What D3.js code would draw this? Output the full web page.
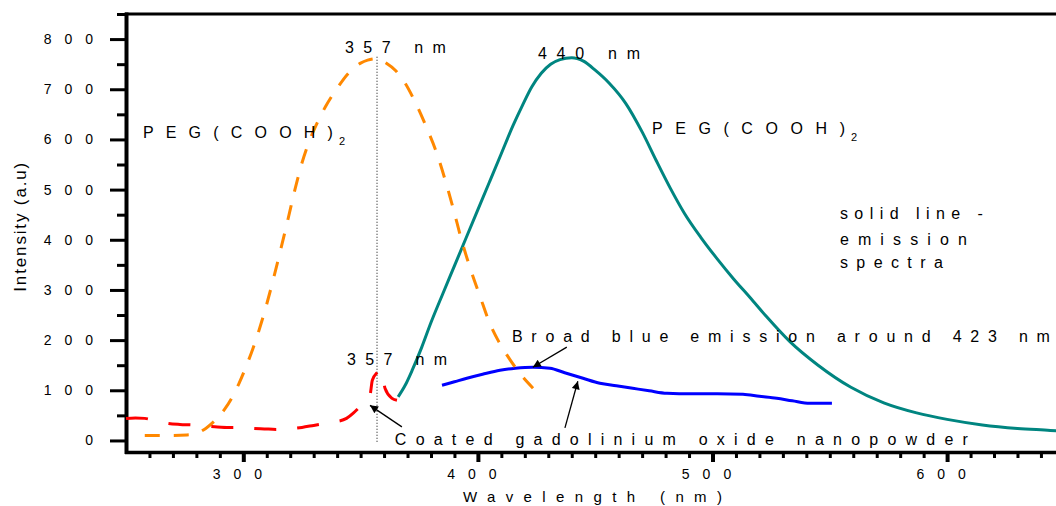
<!DOCTYPE html>
<html>
<head>
<meta charset="utf-8">
<script src="https://cdn.jsdelivr.net/npm/d3@7"></script>
<style>
body { margin: 0; background: #fff; }
text { font-family: "Liberation Sans", Arial, sans-serif; fill: #000; }
</style>
</head>
<body>
<svg id="chart" width="1056" height="506"></svg>
<script>
// excitation, PEG(COOH)2 (dashed orange)
var pegExcWl  = [258, 264, 270, 276, 280, 284, 288, 292, 295, 298, 301, 304, 307, 310, 313, 316, 319, 322, 325, 328, 331, 335, 340, 345, 350, 353, 357, 361, 365, 369, 373, 378, 382.5, 386, 389.5, 393, 396.6, 401, 405, 409, 412.4, 418, 423.5];
var pegExcVal = [10, 10, 10, 11, 14, 24, 40, 62, 84, 112, 145, 182, 224, 272, 325, 382, 440, 500, 553, 595, 628, 665, 702, 733, 752, 758, 761, 752, 737, 712, 677, 625, 572, 520, 462, 400, 345, 286, 234, 196, 170, 133, 104];

// excitation, coated Gd2O3 nanopowder (dashed red)
var gdExcWl  = [250, 254, 258, 263, 268, 273, 278, 284, 289, 294, 299, 304, 309, 314, 319, 325, 330, 335, 339, 344, 347, 349, 352, 354, 355, 357, 359, 360.4, 363.4, 365.5];
var gdExcVal = [44, 45, 44, 39, 34, 32, 31, 29, 27, 26, 26, 24, 23, 22, 23, 26, 30, 34, 37, 44, 55, 64, 78, 90, 120, 135, 140, 104, 84, 80];

// emission, PEG(COOH)2 (solid teal)
var pegEmWl  = [366, 369, 372, 376, 380, 385, 390, 395, 400, 405, 410, 415, 419, 423, 427, 431, 435, 440, 445, 450, 456, 463, 470, 476, 482, 488, 495, 502, 509, 516, 523, 533, 545, 559, 573, 587, 600, 615, 630, 644, 650];
var pegEmVal = [87, 110, 140, 185, 235, 292, 348, 404, 460, 516, 572, 628, 668, 705, 732, 750, 759, 763, 756, 738, 712, 672, 615, 558, 503, 453, 405, 362, 322, 285, 247, 197, 150, 106, 75, 55, 42, 31, 24, 20, 18];

// emission, coated Gd2O3 nanopowder (solid blue)
var gdEmWl  = [384.7, 390, 395.3, 402, 409.4, 416, 423.4, 430.7, 437, 444.8, 452, 459, 466, 473, 480.6, 491, 502, 513, 520, 527.4, 534, 541.5, 550.9];
var gdEmVal = [110, 117, 124, 132, 140, 144, 146, 144, 135, 124, 114, 109, 104, 99, 94, 93, 93, 92, 88, 84, 79, 74, 74];

var yMajorTicks = [0, 100, 200, 300, 400, 500, 600, 700, 800];
var yMinorTicks = [50, 150, 250, 350, 450, 550, 650, 750, 850];
var xMajorTicks = [300, 400, 500, 600];
var xMinorTicks = d3.range(260, 650, 10).filter(function (v) { return v % 100 !== 0; });

var peakWl = 357;

// annotation texts: anchor in data units, width in px
var notes = [
	{ text: '357 nm', wl: 343.3, val: 772, len: 101 },
	{ text: '440 nm', wl: 425.6, val: 760, len: 102 },
	{ text: 'PEG(COOH)', wl: 257.2, val: 603, len: 190, sub: '2' },
	{ text: 'PEG(COOH)', wl: 474.2, val: 611, len: 193, sub: '2' },
	{ text: 'solid line -', wl: 554.3, val: 442, len: 143 },
	{ text: 'emission', wl: 554.3, val: 389, len: 127 },
	{ text: 'spectra', wl: 554.3, val: 343, len: 103 },
	{ text: 'Broad blue emission around 423 nm', wl: 414.5, val: 196, len: 538 },
	{ text: '357 nm', wl: 344.2, val: 150, len: 100 },
	{ text: 'Coated gadolinium oxide nanopowder', wl: 364.6, val: -9, len: 573 }
];

var arrows = [
	{ from: [437.9, 186], to: [423.4, 146] },
	{ from: [437.1, 25], to: [442.6, 118] },
	{ from: [367.6, 27], to: [354, 70] }
];

function zip(a, b) {
	return a.map(function (v, i) { return [v, b[i]]; });
}

var svg = d3.select('#chart');

var x = d3.scaleLinear().domain([250, 650]).range([126, 1064.4]);
var y = d3.scaleLinear().domain([-25, 850]).range([453, 14]);

svg.append('defs').append('marker')
	.attr('id', 'arrowhead')
	.attr('viewBox', '0 0 10 10')
	.attr('refX', 10).attr('refY', 5)
	.attr('markerWidth', 11).attr('markerHeight', 8)
	.attr('markerUnits', 'userSpaceOnUse')
	.attr('orient', 'auto')
	.append('path')
	.attr('d', 'M0,0L10,5L0,10z')
	.attr('fill', '#000');

// AXES
var yMinor = svg.append('g').attr('transform', 'translate(126,0)')
	.call(d3.axisLeft(y).tickValues(yMinorTicks).tickSize(9).tickFormat(''));
var yMajor = svg.append('g').attr('transform', 'translate(126,0)')
	.call(d3.axisLeft(y).tickValues(yMajorTicks).tickSize(16).tickPadding(4));
var xMinor = svg.append('g').attr('transform', 'translate(0,452)')
	.call(d3.axisBottom(x).tickValues(xMinorTicks).tickSize(6).tickFormat(''));
var xMajor = svg.append('g').attr('transform', 'translate(0,452)')
	.call(d3.axisBottom(x).tickValues(xMajorTicks).tickSize(10).tickPadding(7));

[yMinor, yMajor, xMinor, xMajor].forEach(function (g) {
	g.select('.domain').remove();
	g.selectAll('line').attr('stroke', '#000').attr('stroke-width', 3);
});
xMajor.selectAll('line').attr('stroke-width', 4);

[yMajor, xMajor].forEach(function (g) {
	g.selectAll('text')
		.attr('fill', '#000')
		.style('font-size', '14px')
		.style('font-family', '"Liberation Sans", Arial, sans-serif')
		.attr('letter-spacing', 13);
});

svg.append('line')
	.attr('x1', 126.5).attr('x2', 126.5).attr('y1', 12.5).attr('y2', 454)
	.attr('stroke', '#000').attr('stroke-width', 4);
svg.append('line')
	.attr('x1', 125).attr('x2', 1056).attr('y1', 452.5).attr('y2', 452.5)
	.attr('stroke', '#000').attr('stroke-width', 3.5);
svg.append('line')
	.attr('x1', 125).attr('x2', 1056).attr('y1', 14).attr('y2', 14)
	.attr('stroke', '#000').attr('stroke-width', 3);

svg.append('text')
	.attr('transform', 'translate(26,' + y(425) + ') rotate(-90)')
	.attr('text-anchor', 'middle')
	.attr('textLength', 129)
	.attr('lengthAdjust', 'spacing')
	.style('font-size', '17px')
	.text('Intensity (a.u)');

svg.append('text')
	.attr('x', 463).attr('y', 502)
	.attr('textLength', 259)
	.attr('lengthAdjust', 'spacing')
	.style('font-size', '15px')
	.text('Wavelength (nm)');

// PEAK MARKER
svg.append('line')
	.attr('x1', x(peakWl)).attr('x2', x(peakWl))
	.attr('y1', y(765)).attr('y2', y(-5))
	.attr('stroke', '#333').attr('stroke-width', 1.2)
	.attr('stroke-dasharray', '1,2');

// SPECTRA
var line = d3.line()
	.x(function (d) { return x(d[0]); })
	.y(function (d) { return y(d[1]); })
	.curve(d3.curveMonotoneX);

var plot = svg.append('g');

plot.append('path')
	.attr('d', line(zip(pegEmWl, pegEmVal)))
	.attr('fill', 'none').attr('stroke', '#008580').attr('stroke-width', 3);

plot.append('path')
	.attr('d', line(zip(gdEmWl, gdEmVal)))
	.attr('fill', 'none').attr('stroke', '#0000ff').attr('stroke-width', 3);

plot.append('path')
	.attr('d', line(zip(pegExcWl, pegExcVal)))
	.attr('fill', 'none').attr('stroke', '#ff8800').attr('stroke-width', 3)
	.attr('stroke-dasharray', '15,14');

plot.append('path')
	.attr('d', line(zip(gdExcWl, gdExcVal)))
	.attr('fill', 'none').attr('stroke', '#ff0000').attr('stroke-width', 3)
	.attr('stroke-dasharray', '22,21');

// ANNOTATIONS
svg.selectAll('.note')
	.data(notes)
	.enter()
	.append('text')
	.attr('class', 'note')
	.attr('x', function (d) { return x(d.wl); })
	.attr('y', function (d) { return y(d.val); })
	.attr('textLength', function (d) { return d.len; })
	.attr('lengthAdjust', 'spacing')
	.style('font-size', '16px')
	.text(function (d) { return d.text; });

svg.selectAll('.sub')
	.data(notes.filter(function (d) { return d.sub; }))
	.enter()
	.append('text')
	.attr('class', 'sub')
	.attr('x', function (d) { return x(d.wl) + d.len + 6; })
	.attr('y', function (d) { return y(d.val) + 7; })
	.style('font-size', '11px')
	.text(function (d) { return d.sub; });

svg.selectAll('.arrow')
	.data(arrows)
	.enter()
	.append('line')
	.attr('class', 'arrow')
	.attr('x1', function (d) { return x(d.from[0]); })
	.attr('y1', function (d) { return y(d.from[1]); })
	.attr('x2', function (d) { return x(d.to[0]); })
	.attr('y2', function (d) { return y(d.to[1]); })
	.attr('stroke', '#000').attr('stroke-width', 1.3)
	.attr('marker-end', 'url(#arrowhead)');
</script>
</body>
</html>
